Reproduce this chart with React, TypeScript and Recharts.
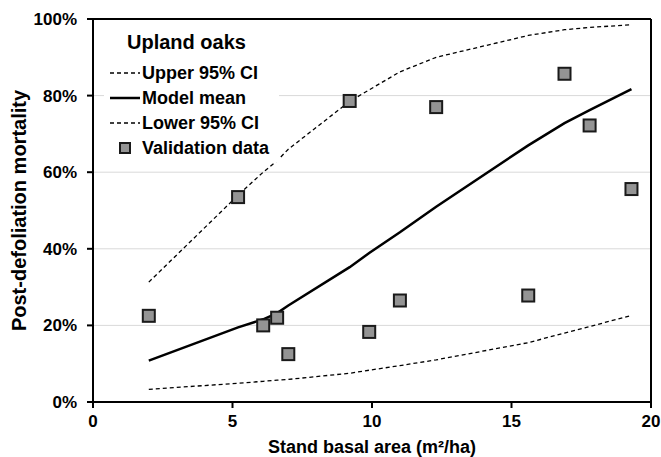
import React from "react";
import {
  ComposedChart,
  Line,
  Scatter,
  XAxis,
  YAxis,
  CartesianGrid,
  ReferenceLine,
  Label,
} from "recharts";

// basal area (m2/ha) where the model curves are evaluated
const basalArea = [2, 5.2, 6.1, 6.6, 7, 9.2, 9.9, 11, 12.3, 15.6, 16.9, 17.8, 19.3];
const modelMean = [0.108, 0.195, 0.216, 0.232, 0.252, 0.352, 0.389, 0.443, 0.51, 0.67, 0.728, 0.762, 0.817];
const upperCI = [0.313, 0.54, 0.6, 0.63, 0.66, 0.785, 0.815, 0.862, 0.9, 0.957, 0.972, 0.978, 0.985];
const lowerCI = [0.033, 0.049, 0.054, 0.057, 0.059, 0.075, 0.083, 0.095, 0.11, 0.155, 0.18, 0.197, 0.226];

// validation plots
const validationX = [2.0, 5.2, 6.1, 6.6, 7.0, 9.2, 9.9, 11.0, 12.3, 15.6, 16.9, 17.8, 19.3];
const validationY = [0.225, 0.535, 0.2, 0.22, 0.125, 0.786, 0.183, 0.265, 0.77, 0.278, 0.857, 0.722, 0.556];

const xTicks = [0, 5, 10, 15, 20];
const yTicks = [0, 0.2, 0.4, 0.6, 0.8, 1];

const FONT = '"Liberation Sans", Arial, sans-serif';

const curveRows = basalArea.map((x, i) => ({
  x,
  mean: modelMean[i],
  upper: upperCI[i],
  lower: lowerCI[i],
}));
const obsRows = validationX.map((x, i) => ({ x, y: validationY[i] }));

const SquareDot = (props: any) => {
  const { cx, cy } = props;
  if (cx == null || cy == null) return null;
  return (
    <rect x={cx - 6} y={cy - 6} width={12} height={12} fill="#949494" stroke="#1a1a1a" strokeWidth={2} />
  );
};

const LegendBox = () => {
  const row = (sample: React.ReactNode, text: string) => (
    <div style={{ display: "flex", alignItems: "center", height: 25 }}>
      <svg width={32} height={14} style={{ marginRight: 2 }}>
        {sample}
      </svg>
      <span>{text}</span>
    </div>
  );
  return (
    <div
      style={{
        position: "absolute",
        left: 104,
        top: 31,
        background: "#fff",
        fontFamily: FONT,
        fontWeight: "bold",
        fontSize: 18,
        color: "#000",
        padding: "0px 10px 2px 4px",
        lineHeight: "22px",
      }}
    >
      <div style={{ fontSize: 20, marginLeft: 19, marginBottom: 7 }}>Upland oaks</div>
      {row(<line x1={2} x2={32} y1={7} y2={7} stroke="#000" strokeWidth={1.3} strokeDasharray="4 3" />, "Upper 95% CI")}
      {row(<line x1={2} x2={32} y1={7} y2={7} stroke="#000" strokeWidth={2.5} />, "Model mean")}
      {row(<line x1={2} x2={32} y1={7} y2={7} stroke="#000" strokeWidth={1.3} strokeDasharray="4 3" />, "Lower 95% CI")}
      {row(<rect x={12} y={2} width={10} height={10} fill="#949494" stroke="#1a1a1a" strokeWidth={2} />, "Validation data")}
    </div>
  );
};

const YTitle = (props: any) => {
  const vb = props.viewBox;
  const cx = vb.x + 19;
  const cy = vb.y + vb.height / 2;
  return (
    <text
      x={cx}
      y={cy}
      transform={`rotate(-90 ${cx} ${cy})`}
      textAnchor="middle"
      dominantBaseline="central"
      fontFamily={FONT}
      fontWeight="bold"
      fontSize={20}
      fill="#000"
    >
      Post-defoliation mortality
    </text>
  );
};

const XTitle = (props: any) => {
  const vb = props.viewBox;
  const cx = vb.x + vb.width / 2;
  return (
    <text
      x={cx}
      y={vb.y + 45}
      textAnchor="middle"
      dominantBaseline="central"
      fontFamily={FONT}
      fontWeight="bold"
      fontSize={18}
      fill="#000"
    >
      Stand basal area (m²/ha)
    </text>
  );
};

const tickStyle = { fill: "#000", fontFamily: FONT, fontWeight: "bold", fontSize: 17 };

export default function App() {
  return (
    <div style={{ position: "absolute", left: 0, top: 0, width: 661, height: 457, background: "#fff" }}>
      <ComposedChart
        width={661}
        height={457}
        data={curveRows}
        margin={{ top: 19, right: 10, bottom: 0, left: 0 }}
      >
        <CartesianGrid vertical={false} stroke="#d9d9d9" strokeWidth={1} />
        <XAxis
          dataKey="x"
          type="number"
          domain={[0, 20]}
          ticks={xTicks}
          height={55}
          tick={tickStyle}
          tickLine={{ stroke: "#000", strokeWidth: 2 }}
          tickSize={6}
          tickMargin={7}
          axisLine={{ stroke: "#000", strokeWidth: 2 }}
        >
          <Label content={<XTitle />} />
        </XAxis>
        <YAxis
          type="number"
          domain={[0, 1]}
          ticks={yTicks}
          width={93}
          tickFormatter={(v: number) => `${Math.round(v * 100)}%`}
          tick={tickStyle}
          tickLine={{ stroke: "#000", strokeWidth: 2 }}
          tickSize={6}
          tickMargin={10}
          axisLine={{ stroke: "#000", strokeWidth: 2 }}
        >
          <Label content={<YTitle />} />
        </YAxis>
        <ReferenceLine y={1} stroke="#000" strokeWidth={2} />
        <ReferenceLine x={20} stroke="#000" strokeWidth={2} />
        <Line
          name="Upper 95% CI"
          dataKey="upper"
          type="linear"
          stroke="#000"
          strokeWidth={1.3}
          strokeDasharray="4 3"
          dot={false}
          isAnimationActive={false}
        />
        <Line
          name="Model mean"
          dataKey="mean"
          type="linear"
          stroke="#000"
          strokeWidth={2.5}
          dot={false}
          isAnimationActive={false}
        />
        <Line
          name="Lower 95% CI"
          dataKey="lower"
          type="linear"
          stroke="#000"
          strokeWidth={1.3}
          strokeDasharray="4 3"
          dot={false}
          isAnimationActive={false}
        />
        <Scatter
          name="Validation data"
          data={obsRows}
          dataKey="y"
          shape={<SquareDot />}
          isAnimationActive={false}
        />
      </ComposedChart>
      <LegendBox />
    </div>
  );
}
